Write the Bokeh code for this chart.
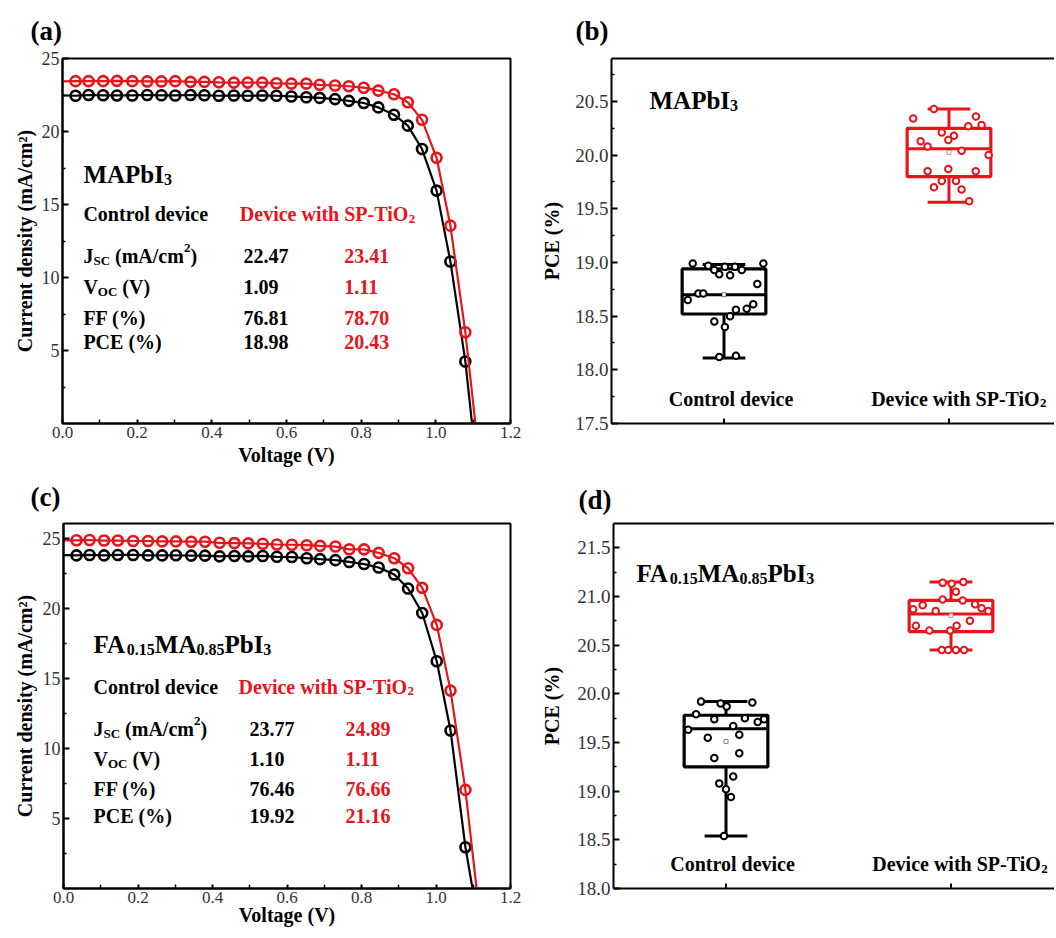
import numpy as np
from bokeh.plotting import figure
from bokeh.layouts import row, column
from bokeh.models import Label, FixedTicker, PrintfTickFormatter, LinearAxis, Range1d
from bokeh.embed import file_html
from bokeh.resources import INLINE

FONT = "Liberation Serif"
RED = "#e8141b"
BLACK = "#000000"
TICK_COL = "#333333"

# ---------------- data ----------------
V_PTS = [0.035, 0.070, 0.109, 0.146, 0.187, 0.227, 0.265, 0.302, 0.343, 0.380,
         0.419, 0.459, 0.496, 0.535, 0.573, 0.613, 0.653, 0.689, 0.730, 0.767,
         0.807, 0.846, 0.888, 0.925, 0.963, 1.002, 1.039, 1.079]

A_CTRL_J = [22.45, 22.50, 22.48, 22.47, 22.47, 22.50, 22.48, 22.47, 22.50, 22.48,
            22.45, 22.47, 22.45, 22.47, 22.45, 22.40, 22.35, 22.30, 22.22, 22.10,
            21.95, 21.65, 21.15, 20.40, 18.80, 15.95, 11.10, 4.25]
A_SP_J = [23.45, 23.45, 23.45, 23.47, 23.45, 23.43, 23.43, 23.45, 23.40, 23.40,
          23.37, 23.35, 23.35, 23.35, 23.30, 23.28, 23.28, 23.20, 23.15, 23.10,
          23.00, 22.80, 22.55, 22.00, 20.80, 18.20, 13.55, 6.25]
A_J0 = [22.47, 23.43]
A_VOC = [1.097, 1.106]

C_CTRL_J = [23.82, 23.85, 23.82, 23.85, 23.85, 23.82, 23.82, 23.83, 23.80, 23.80,
            23.75, 23.78, 23.75, 23.78, 23.72, 23.70, 23.62, 23.55, 23.48, 23.35,
            23.20, 22.95, 22.45, 21.45, 19.70, 16.25, 11.30, 2.95]
C_SP_J = [24.90, 24.92, 24.88, 24.88, 24.85, 24.85, 24.82, 24.82, 24.80, 24.80,
          24.72, 24.70, 24.68, 24.65, 24.60, 24.58, 24.55, 24.50, 24.45, 24.25,
          24.25, 24.00, 23.62, 22.90, 21.50, 18.85, 14.15, 7.05]
C_J0 = [23.84, 24.90]
C_VOC = [1.098, 1.109]

ROW_NAMES = ["Control device", "Device with SP-TiO"]
A_TABLE = [["22.47", "1.09", "76.81", "18.98"], ["23.41", "1.11", "78.70", "20.43"]]
C_TABLE = [["23.77", "1.10", "76.46", "19.92"], ["24.89", "1.11", "76.66", "21.16"]]

BOX_POS = [1, 2]
B_Q1 = [18.52, 19.80]
B_MED = [18.70, 20.06]
B_Q3 = [18.94, 20.25]
B_LO = [18.11, 19.56]
B_HI = [18.98, 20.43]

B_CTRL_X = [0.861, 0.930, 0.957, 0.979, 1.004, 1.027, 1.049, 1.079, 1.175, 1.148, 0.886,
            0.908, 0.839, 1.130, 1.101, 1.053, 1.027, 0.957, 1.004, 0.979, 1.053]
B_CTRL_Y = [18.99, 18.97, 18.93, 18.89, 18.96, 18.88, 18.96, 18.93, 18.99, 18.80, 18.71,
            18.71, 18.65, 18.61, 18.57, 18.56, 18.50, 18.45, 18.40, 18.12, 18.13]
B_SP_X = [1.933, 1.841, 2.120, 2.086, 2.145, 1.968, 2.022, 1.997, 1.874, 1.905,
          2.056, 2.176, 1.905, 1.997, 2.119, 1.968, 2.031, 1.933, 2.056, 2.090]
B_SP_Y = [20.43, 20.34, 20.36, 20.27, 20.28, 20.21, 20.18, 20.14, 20.13, 20.08,
          20.04, 20.00, 19.85, 19.87, 19.85, 19.76, 19.76, 19.70, 19.68, 19.57]

D_Q1 = [19.25, 20.64]
D_MED = [19.64, 20.82]
D_Q3 = [19.78, 20.96]
D_LO = [18.54, 20.45]
D_HI = [19.92, 21.15]

D_CTRL_X = [0.889, 0.976, 1.003, 1.117, 0.867, 0.948, 1.084, 1.141, 1.169, 0.832,
            1.032, 1.059, 0.919, 0.948, 1.059, 1.032, 0.970, 1.000, 1.022, 0.991]
D_CTRL_Y = [19.92, 19.90, 19.87, 19.91, 19.79, 19.74, 19.75, 19.71, 19.74, 19.63,
            19.67, 19.58, 19.55, 19.34, 19.39, 19.15, 19.08, 19.02, 18.94, 18.54]
D_SP_X = [1.963, 2.003, 2.055, 2.022, 1.963, 2.052, 1.874, 2.107, 2.136, 2.166, 1.932,
          1.832, 2.084, 2.025, 1.844, 1.904, 1.996, 1.959, 1.988, 2.022, 2.058]
D_SP_Y = [21.14, 21.13, 21.15, 21.05, 20.97, 20.96, 20.91, 20.92, 20.88, 20.85, 20.85,
          20.87, 20.75, 20.70, 20.70, 20.65, 20.65, 20.45, 20.45, 20.45, 20.45]

# ---------------- text helpers ----------------
W = {'A': 722, 'B': 667, 'C': 722, 'D': 722, 'E': 667, 'F': 611, 'I': 389, 'J': 500,
     'M': 944, 'O': 778, 'P': 611, 'S': 556, 'T': 667, 'V': 722,
     'a': 500, 'b': 556, 'c': 444, 'd': 556, 'e': 444, 'g': 500, 'h': 556, 'i': 278,
     'l': 278, 'm': 833, 'n': 556, 'o': 500, 'r': 444, 't': 333, 'v': 500, 'w': 722,
     ' ': 250, '(': 333, ')': 333, '%': 1000, '/': 278, '.': 250, '-': 333}


def tw(s, size):
    return sum(W.get(ch, 500) for ch in s) * size / 1000.0


def add_text(p, x, y, txt, size, color, xo=0.0, yo=0.0, align="left"):
    p.add_layout(Label(x=x, y=y, x_offset=xo, y_offset=yo, text=txt,
                       text_font=FONT, text_font_style="bold",
                       text_font_size="%dpx" % size, text_color=color,
                       text_baseline="alphabetic", text_align=align))


def rich(p, x, y, parts, size, color, align="left"):
    def fs(k):
        return size if k == "n" else int(round(size * 0.64))
    total = sum(tw(t, fs(k)) for t, k in parts)
    off = -total / 2 if align == "center" else 0.0
    for t, k in parts:
        s = fs(k)
        lead = len(t) - len(t.lstrip(" "))
        off += tw(" " * lead, s)
        body = t.lstrip(" ")
        dy = 0 if k == "n" else (-0.22 * size if k == "sub" else 0.40 * size)
        add_text(p, x, y, body, s, color, xo=off, yo=dy)
        off += tw(body, s)


def style_axes(p, label_size):
    p.grid.visible = False
    for ax in p.axis:
        ax.axis_line_width = 2
        ax.axis_line_color = BLACK
        ax.major_tick_in = 6
        ax.major_tick_out = 0
        ax.minor_tick_in = 3
        ax.minor_tick_out = 0
        ax.major_tick_line_width = 2
        ax.minor_tick_line_width = 1.5
        ax.major_label_text_font = FONT
        ax.major_label_text_font_size = label_size
        ax.major_label_text_color = TICK_COL
        ax.major_label_standoff = 3
        ax.axis_label_text_font = FONT
        ax.axis_label_text_font_style = "bold"
        ax.axis_label_text_font_size = "20px"
        ax.axis_label_text_color = BLACK


def panel_title(p, txt, offset, standoff, valign="bottom"):
    p.title.text = txt
    p.title.text_font = FONT
    p.title.text_font_size = "27px"
    p.title.text_font_style = "bold"
    p.title.text_color = BLACK
    p.title.align = "left"
    p.title.vertical_align = valign
    p.title.offset = offset
    p.title.standoff = standoff


def jv_panel(letter, t_off, t_stand, t_valign, w, h, bl, br, bt, bb, ymax, ylab_stand,
             xlab_stand, ctrl_j, sp_j, j0, voc, formula, table, ty, tx):
    p = figure(width=w, height=h, x_range=Range1d(0, 1.2), y_range=Range1d(0, ymax),
               min_border_left=bl, min_border_right=br, min_border_top=bt,
               min_border_bottom=bb, output_backend="svg", toolbar_location=None)
    p.outline_line_color = BLACK
    p.outline_line_width = 2
    p.xaxis.axis_label = "Voltage (V)"
    p.yaxis.axis_label = "Current density (mA/cm\u00b2)"
    p.xaxis.ticker = FixedTicker(ticks=[0, 0.2, 0.4, 0.6, 0.8, 1.0, 1.2],
                                 minor_ticks=[0.1, 0.3, 0.5, 0.7, 0.9, 1.1])
    p.xaxis.formatter = PrintfTickFormatter(format="%.1f")
    p.yaxis.ticker = FixedTicker(ticks=[5, 10, 15, 20, 25],
                                 minor_ticks=[2.5, 7.5, 12.5, 17.5, 22.5])
    style_axes(p, "18px")
    p.xaxis.major_label_text_font_size = "17px"
    p.xaxis.major_tick_in = 4
    p.xaxis.minor_tick_in = 4
    p.xaxis.axis_label_standoff = xlab_stand
    p.yaxis.axis_label_standoff = ylab_stand
    panel_title(p, letter, t_off, t_stand, t_valign)
    for jj, j_start, v_end, col in [(ctrl_j, j0[0], voc[0], BLACK), (sp_j, j0[1], voc[1], RED)]:
        p.line([0.0] + V_PTS + [v_end], [j_start] + jj + [0.0], line_color=col, line_width=2.2)
        p.scatter(V_PTS, jj, marker="circle", size=10, fill_color=None,
                  line_color=col, line_width=2.6)
    # annotation block
    rich(p, tx[0], ty[0], formula, 25, BLACK)
    rich(p, tx[0], ty[1], [(ROW_NAMES[0], "n")], 20, BLACK)
    rich(p, tx[1], ty[1], [(ROW_NAMES[1], "n"), ("2", "sub")], 20, RED)
    rows = [[("J", "n"), ("SC", "sub"), (" (mA/cm", "n"), ("2", "sup"), (")", "n")],
            [("V", "n"), ("OC", "sub"), (" (V)", "n")],
            [("FF (%)", "n")],
            [("PCE (%)", "n")]]
    for i, parts in enumerate(rows):
        rich(p, tx[0], ty[2 + i], parts, 20, BLACK)
        rich(p, tx[2], ty[2 + i], [(table[0][i], "n")], 20, BLACK)
        rich(p, tx[3], ty[2 + i], [(table[1][i], "n")], 20, RED)
    return p


def box_panel(letter, t_off, t_stand, w, h, bl, bt, bb, xend, y0, y1, ylab_stand, majors,
              minors, q1, med, q3, lo, hi, cx, cy, sx, sy, formula, fpos, cat_y, cat_x):
    p = figure(width=w, height=h, x_range=Range1d(0.5, xend), y_range=Range1d(y0, y1),
               min_border_left=bl, min_border_right=0, min_border_top=bt,
               min_border_bottom=bb, output_backend="svg", toolbar_location=None)
    p.outline_line_color = None
    top = LinearAxis(ticker=FixedTicker(ticks=[]),
                     major_tick_line_color=None, minor_tick_line_color=None)
    p.add_layout(top, "above")
    p.yaxis.axis_label = "PCE (%)"
    p.yaxis.ticker = FixedTicker(ticks=majors, minor_ticks=minors)
    p.yaxis.formatter = PrintfTickFormatter(format="%.1f")
    p.xaxis.ticker = FixedTicker(ticks=[])
    style_axes(p, "19px")
    p.yaxis.axis_label_standoff = ylab_stand
    panel_title(p, letter, t_off, t_stand)
    # category tick marks on the bottom axis
    p.scatter(BOX_POS, [y0, y0], marker="dash", angle=np.pi / 2, size=10,
              line_color=BLACK, line_width=2)
    cols = [BLACK, RED]
    bw, cw = 0.372, 0.19
    for i in range(2):
        c = cols[i]
        x = BOX_POS[i]
        p.segment([x, x], [q3[i], q1[i]], [x, x], [hi[i], lo[i]], line_color=c, line_width=3)
        p.segment([x - cw / 2, x - cw / 2], [hi[i], lo[i]], [x + cw / 2, x + cw / 2],
                  [hi[i], lo[i]], line_color=c, line_width=3)
        p.quad(left=[x - bw / 2], right=[x + bw / 2], bottom=[q1[i]], top=[q3[i]],
               fill_color="white", line_color=c, line_width=3.2)
        p.segment([x - bw / 2], [med[i]], [x + bw / 2], [med[i]], line_color=c, line_width=3)
    for xs, ys, c, xc in [(cx, cy, BLACK, 1), (sx, sy, RED, 2)]:
        p.scatter(xs, ys, marker="circle", size=6.5, fill_color="white", line_color=c,
                  line_width=2)
        p.scatter([xc], [float(np.mean(ys))], marker="square", size=4, fill_color="white",
                  line_color=c, line_width=0.8, line_alpha=0.6)
    rich(p, fpos[0], fpos[1], formula, 25, BLACK)
    rich(p, cat_x[0], cat_y, [("Control device", "n")], 20, BLACK, align="center")
    rich(p, cat_x[1], cat_y, [("Device with SP-TiO", "n"), ("2", "sub")], 20, BLACK)
    return p


MAPBI = [("MAPbI", "n"), ("3", "sub")]
FAMA = [("FA", "n"), ("0.15", "sub"), ("MA", "n"), ("0.85", "sub"), ("PbI", "n"), ("3", "sub")]

pa = jv_panel("(a)", -32, 26, "bottom", 530, 470, 62, 20, 57, 47, 25.0, 3, 3,
              A_CTRL_J, A_SP_J, A_J0, A_VOC,
              MAPBI, A_TABLE, [17.06, 14.32, 11.48, 9.36, 7.26, 5.55],
              [0.056, 0.475, 0.485, 0.755])
pc = jv_panel("(c)", -33, 20, "top", 530, 466, 63, 20, 53, 48, 26.1, 4, -2,
              C_CTRL_J, C_SP_J, C_J0, C_VOC,
              FAMA, C_TABLE, [17.45, 14.44, 11.42, 9.27, 7.13, 5.22],
              [0.0805, 0.47, 0.499, 0.757])
pb = box_panel("(b)", -36, 25, 524, 470, 81, 58, 47, 2.469, 17.5, 20.9, 9,
               [17.5, 18.0, 18.5, 19.0, 19.5, 20.0, 20.5],
               [17.75, 18.25, 18.75, 19.25, 19.75, 20.25, 20.75],
               B_Q1, B_MED, B_Q3, B_LO, B_HI, B_CTRL_X, B_CTRL_Y, B_SP_X, B_SP_Y,
               MAPBI, (0.669, 20.51), 17.73, (1.032, 1.654))
pd = box_panel("(d)", -35, 17, 524, 466, 83, 53, 48, 2.46, 18.0, 21.75, 11,
               [18.0, 18.5, 19.0, 19.5, 20.0, 20.5, 21.0, 21.5],
               [18.25, 18.75, 19.25, 19.75, 20.25, 20.75, 21.25],
               D_Q1, D_MED, D_Q3, D_LO, D_HI, D_CTRL_X, D_CTRL_Y, D_SP_X, D_SP_Y,
               FAMA, (0.602, 21.24), 18.247, (1.030, 1.65))

layout = column(row(pa, pb), row(pc, pd))
open("out.html", "w").write(file_html(layout, INLINE))
